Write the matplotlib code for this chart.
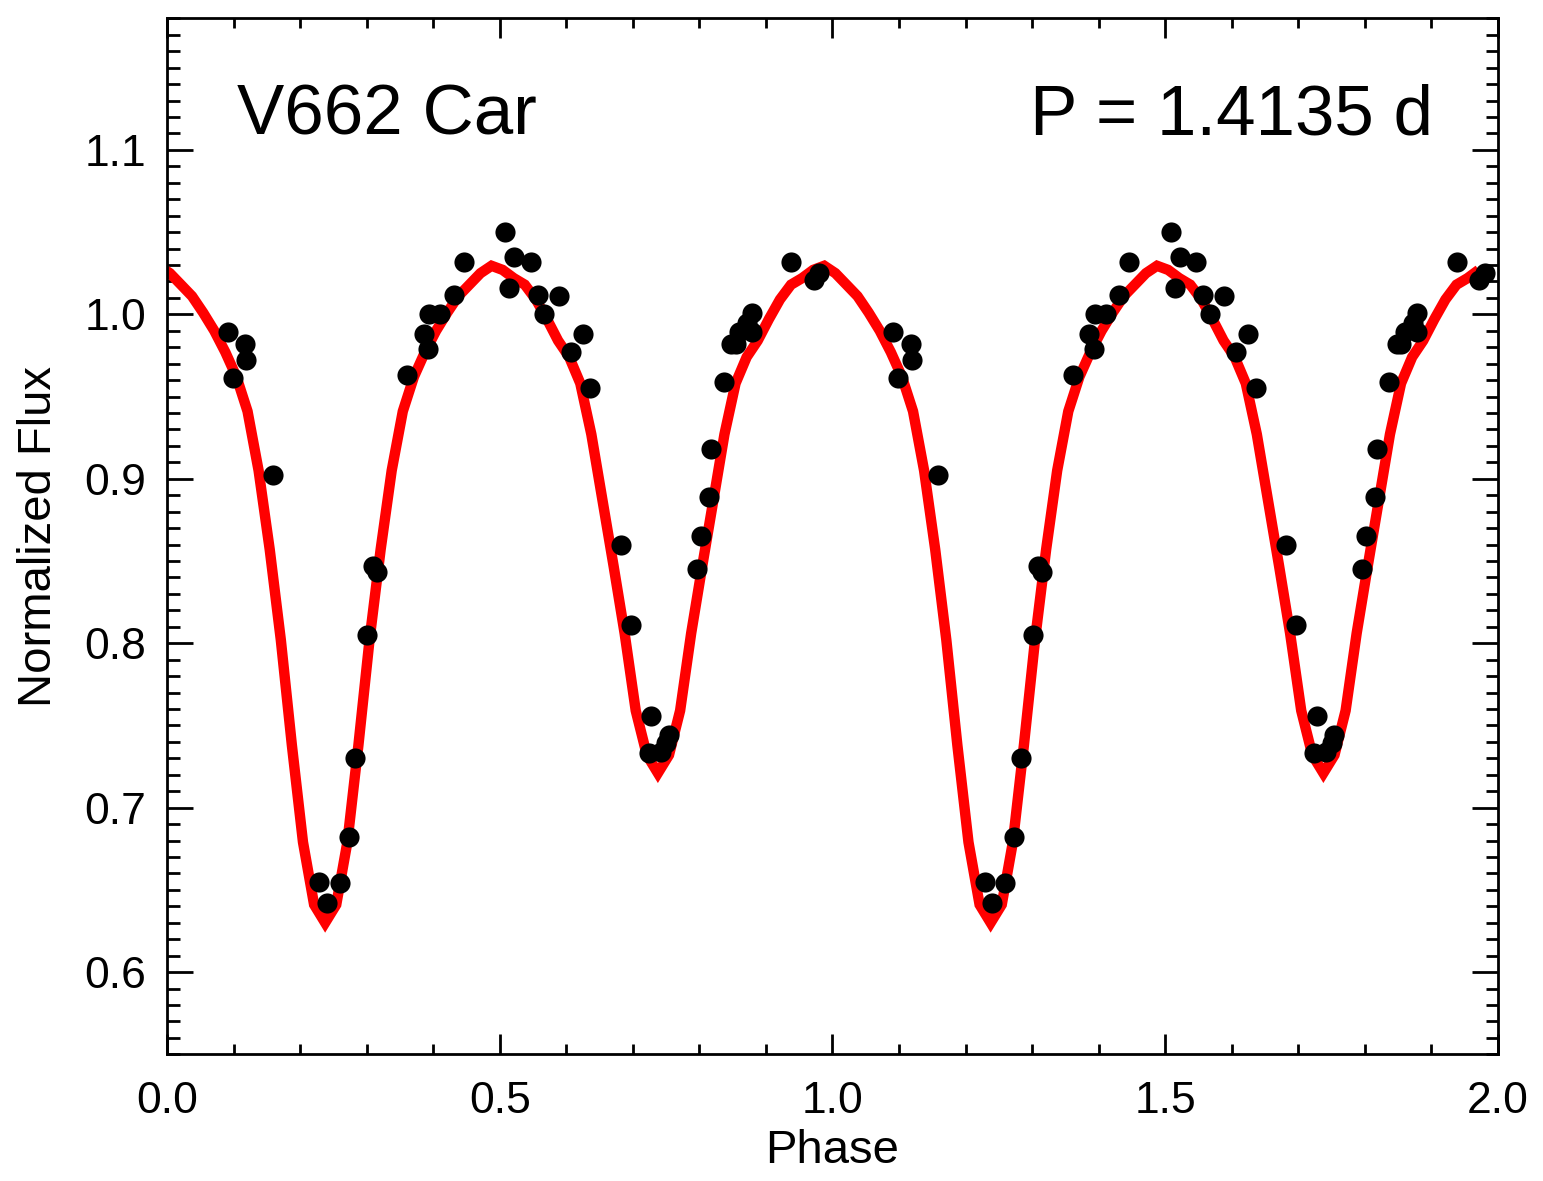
import matplotlib
matplotlib.use("Agg")
import matplotlib.pyplot as plt
from matplotlib.ticker import MultipleLocator, FormatStrFormatter
import numpy as np

plt.rcParams['font.family'] = ['Liberation Sans', 'DejaVu Sans']

# ---- observed points (one cycle, phase 0-1; plotted twice) ----
obs_phase = [0.091, 0.099, 0.118, 0.119, 0.159, 0.229, 0.240, 0.260, 0.273, 0.283,
             0.301, 0.309, 0.315, 0.361, 0.386, 0.393, 0.394, 0.411, 0.431, 0.446,
             0.508, 0.514, 0.522, 0.547, 0.557, 0.567, 0.589, 0.607, 0.625, 0.636,
             0.682, 0.697, 0.724, 0.728, 0.742, 0.750, 0.754, 0.796, 0.802, 0.815,
             0.818, 0.837, 0.848, 0.855, 0.860, 0.872, 0.879, 0.879, 0.938, 0.972,
             0.980]
obs_flux = [0.989, 0.961, 0.982, 0.972, 0.902, 0.655, 0.642, 0.654, 0.682, 0.730,
            0.805, 0.847, 0.843, 0.963, 0.988, 0.979, 1.000, 1.000, 1.012, 1.032,
            1.050, 1.016, 1.035, 1.032, 1.012, 1.000, 1.011, 0.977, 0.988, 0.955,
            0.860, 0.811, 0.733, 0.756, 0.734, 0.739, 0.744, 0.845, 0.865, 0.889,
            0.918, 0.959, 0.982, 0.982, 0.989, 0.995, 1.001, 0.989, 1.032, 1.021,
            1.025]

# ---- model light curve (one cycle) ----
model_phase = [-0.0123, 0.0044, 0.0211, 0.0377, 0.0544, 0.0711, 0.0877, 0.1044, 0.1211, 0.1377,
               0.1544, 0.1711, 0.1877, 0.2044, 0.2211, 0.2377, 0.2544, 0.2711, 0.2877, 0.3044,
               0.3211, 0.3377, 0.3544, 0.3711, 0.3877, 0.4044, 0.4211, 0.4377, 0.4544, 0.4711,
               0.4877, 0.5044, 0.5211, 0.5377, 0.5544, 0.5711, 0.5877, 0.6044, 0.6211, 0.6377,
               0.6544, 0.6711, 0.6877, 0.7044, 0.7211, 0.7377, 0.7544, 0.7711, 0.7877, 0.8044,
               0.8211, 0.8377, 0.8544, 0.8711, 0.8877, 0.9044, 0.9211, 0.9377, 0.9544, 0.9711,
               0.9877]
model_flux = [1.0295, 1.025, 1.018, 1.011, 1.001, 0.990, 0.977, 0.962, 0.941, 0.905,
              0.857, 0.802, 0.738, 0.679, 0.641, 0.630, 0.641, 0.679, 0.738, 0.802,
              0.857, 0.905, 0.941, 0.962, 0.977, 0.990, 1.001, 1.011, 1.018, 1.025,
              1.0295, 1.027, 1.022, 1.018, 1.009, 0.997, 0.984, 0.974, 0.958, 0.927,
              0.887, 0.847, 0.806, 0.759, 0.732, 0.721, 0.732, 0.759, 0.806, 0.847,
              0.887, 0.927, 0.958, 0.974, 0.984, 0.997, 1.009, 1.018, 1.022, 1.027,
              1.0295]

star_name = "V662 Car"
period_text = "P = 1.4135 d"

# build two-cycle arrays
mp = np.array(model_phase)
mf = np.array(model_flux)
curve_x = np.concatenate([mp, mp[1:-1] + 1.0])
curve_y = np.concatenate([mf, mf[1:-1]])
op = np.array(obs_phase)
of = np.array(obs_flux)
pts_x = np.concatenate([op, op + 1.0])
pts_y = np.concatenate([of, of])

fig = plt.figure(figsize=(15.43, 11.81), dpi=100)
ax = fig.add_axes([0.1082, 0.1073, 0.8626, 0.8772])

ax.plot(curve_x, curve_y, color='#ff0000', lw=7.5, solid_joinstyle='miter',
        solid_capstyle='butt', zorder=2)
ax.plot(pts_x, pts_y, 'o', color='black', markersize=14.5, markeredgewidth=0, zorder=3)

ax.set_xlim(0.0, 2.0)
ax.set_ylim(0.55, 1.18)

ax.xaxis.set_major_locator(MultipleLocator(0.5))
ax.xaxis.set_minor_locator(MultipleLocator(0.1))
ax.yaxis.set_major_locator(MultipleLocator(0.1))
ax.yaxis.set_minor_locator(MultipleLocator(0.01))
ax.xaxis.set_major_formatter(FormatStrFormatter('%.1f'))
ax.yaxis.set_major_formatter(FormatStrFormatter('%.1f'))

for s in ax.spines.values():
    s.set_linewidth(2.0)

ax.tick_params(axis='x', which='major', direction='in', length=14.5, width=2.0,
               top=True, bottom=True, labelsize=32, pad=19)
ax.tick_params(axis='x', which='minor', direction='in', length=7, width=2.0,
               top=True, bottom=True)
ax.tick_params(axis='y', which='major', direction='in', length=18.7, width=2.0,
               left=True, right=True, labelsize=32, pad=15)
ax.tick_params(axis='y', which='minor', direction='in', length=9, width=2.0,
               left=True, right=True)

ax.set_xlabel("Phase", fontsize=34, labelpad=5)
ax.set_ylabel("Normalized Flux", fontsize=34, labelpad=17)

ax.text(0.0526, 0.888, star_name, transform=ax.transAxes, fontsize=51,
        ha='left', va='baseline')
ax.text(0.951, 0.888, period_text, transform=ax.transAxes, fontsize=51,
        ha='right', va='baseline')

fig.savefig("out.png", dpi=100)
